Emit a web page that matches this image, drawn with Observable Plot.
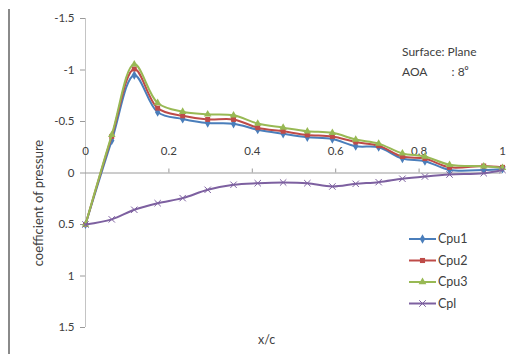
<!DOCTYPE html>
<html><head><meta charset="utf-8">
<script src="https://cdn.jsdelivr.net/npm/d3@7"></script>
<script src="https://cdn.jsdelivr.net/npm/@observablehq/plot@0.6"></script>
<style>
body{margin:0;background:#fff;}
#wrap{position:relative;width:520px;height:354px;overflow:hidden;font-family:Lato,"Open Sans",sans-serif;color:#404040;}
#wrap svg{position:absolute;left:0;top:0;}
.frame{position:absolute;left:8px;top:9px;width:2px;height:345px;background:#8a8a8a;}
.ann{position:absolute;font-size:12px;white-space:pre;color:#404040;line-height:1;}
</style></head><body><div id="wrap"><div class="frame"></div></div>
<script>
const xs   = [0, 0.063, 0.117, 0.173, 0.233, 0.293, 0.355, 0.413, 0.474, 0.532, 0.592, 0.648, 0.703, 0.76, 0.814, 0.873, 0.955, 1.0];
const cpu1 = [0.5, -0.315, -0.95, -0.59, -0.525, -0.485, -0.478, -0.42, -0.38, -0.347, -0.33, -0.26, -0.25, -0.14, -0.115, -0.03, -0.03, -0.04];
const cpu2 = [0.5, -0.355, -1.01, -0.63, -0.555, -0.52, -0.52, -0.44, -0.405, -0.37, -0.355, -0.3, -0.265, -0.16, -0.14, -0.055, -0.068, -0.055];
const cpu3 = [0.5, -0.37, -1.055, -0.68, -0.595, -0.57, -0.56, -0.48, -0.44, -0.405, -0.39, -0.325, -0.285, -0.19, -0.16, -0.08, -0.065, -0.05];
const cpl  = [0.5, 0.45, 0.357, 0.293, 0.244, 0.163, 0.114, 0.099, 0.092, 0.099, 0.131, 0.105, 0.089, 0.056, 0.034, 0.015, 0.002, -0.03];

const seriesNames   = ["Cpu1", "Cpu2", "Cpu3", "Cpl"];
const seriesValues  = [cpu1, cpu2, cpu3, cpl];
const seriesColors  = ["#4A7EBB", "#BE4B48", "#98B954", "#7D60A0"];
const seriesSymbols = ["diamond", "square", "triangle", "times"];
const xTicks = [0, 0.2, 0.4, 0.6, 0.8, 1];
const yTicks = [-1.5, -1, -0.5, 0, 0.5, 1, 1.5];
const annotationLines = ["Surface: Plane", "AOA        : 8\u2070"];
const xTitle = "x/c";
const yTitle = "coefficient of pressure";

const rows = [];
seriesNames.forEach((name, si) => {
  xs.forEach((x, i) => rows.push({series: name, x, y: seriesValues[si][i]}));
});

const marks = [
  Plot.ruleX([0], {stroke: "#c4c4c4"}),
  Plot.ruleY([0], {stroke: "#9a9a9a"}),
  Plot.ruleX(xTicks.slice(1), {x: d => d, y1: 0, y2: 0, insetTop: -4, stroke: "#9a9a9a"}),
  Plot.text(xTicks, {x: d => d, y: 0, dy: -22, text: d => String(d), fill: "#404040", fontSize: 11.5}),
  Plot.axisY({ticks: yTicks, tickFormat: d => String(d), tickSize: 5, tickPadding: 6, stroke: "#9a9a9a", fill: "#404040", fontSize: 11.5, label: null})
];
seriesNames.forEach((name, si) => {
  const data = rows.filter(r => r.series === name);
  marks.push(Plot.line(data, {x: "x", y: "y", stroke: seriesColors[si], strokeWidth: 2, curve: "catmull-rom"}));
  marks.push(Plot.dot(data, {x: "x", y: "y", symbol: seriesSymbols[si], r: si === 3 ? 3 : 2.8,
    fill: si === 3 ? "none" : seriesColors[si], stroke: si === 3 ? seriesColors[si] : "none", strokeWidth: 1}));
});

const chart = Plot.plot({
  width: 520, height: 354,
  marginLeft: 85, marginRight: 18, marginTop: 18, marginBottom: 27,
  style: {fontFamily: "Lato, 'Open Sans', sans-serif", background: "transparent"},
  x: {domain: [0, 1], axis: null},
  y: {domain: [-1.5, 1.5], reverse: true, axis: null},
  marks
});
const wrap = document.getElementById("wrap");
wrap.appendChild(chart);

// axis titles
const yt = document.createElement("div");
yt.className = "ann"; yt.textContent = yTitle;
yt.style.cssText += "left:38px;top:203px;transform:translate(-50%,-50%) rotate(-90deg);font-size:13px;";
wrap.appendChild(yt);
const xt = document.createElement("div");
xt.className = "ann"; xt.textContent = xTitle;
xt.style.cssText += "left:258px;top:334px;font-size:12.5px;";
wrap.appendChild(xt);

// annotation
annotationLines.forEach((t, i) => {
  const d = document.createElement("div");
  d.className = "ann"; d.textContent = t;
  d.style.cssText += `left:402px;top:${46 + i * 20}px;font-size:12px;`;
  wrap.appendChild(d);
});

// legend
const lg = d3.select(wrap).append("svg").attr("width", 520).attr("height", 354)
  .style("position", "absolute").style("left", 0).style("top", 0);
seriesNames.forEach((name, i) => {
  const y = 239 + i * 21.5;
  const g = lg.append("g");
  g.append("line").attr("x1", 409).attr("x2", 436).attr("y1", y).attr("y2", y)
    .attr("stroke", seriesColors[i]).attr("stroke-width", 2);
  const sym = {diamond: d3.symbolDiamond, square: d3.symbolSquare, triangle: d3.symbolTriangle, times: d3.symbolTimes}[seriesSymbols[i]];
  g.append("path").attr("d", d3.symbol(sym, i === 3 ? 30 : 26)()).attr("transform", `translate(422.5,${y})`)
    .attr("fill", i === 3 ? "none" : seriesColors[i]).attr("stroke", i === 3 ? seriesColors[i] : "none");
  g.append("text").attr("x", 438).attr("y", y).attr("dy", "0.35em").attr("fill", "#404040")
    .attr("font-size", 12.5).attr("font-family", "Lato, 'Open Sans', sans-serif").text(name);
});
</script></body></html>
